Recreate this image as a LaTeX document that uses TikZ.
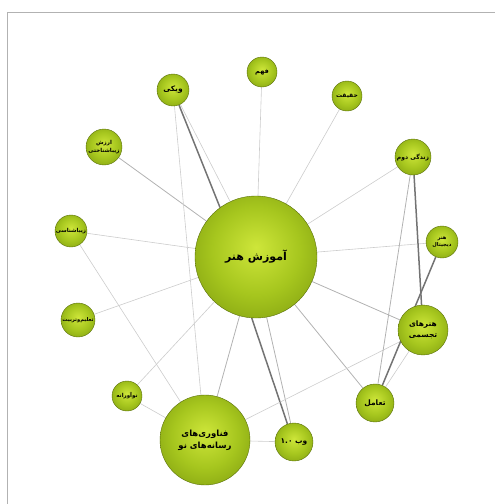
\documentclass[tikz,border=0pt]{standalone}
\usepackage{fontspec}
\newfontfamily\arabicfont[Script=Arabic]{DejaVu Sans}
\TeXXeTstate=1
\usetikzlibrary{backgrounds}
\newcommand{\faline}[1]{\beginR #1\endR}
\definecolor{ballrim}{RGB}{90,112,10}
\definecolor{ballA}{RGB}{206,230,58}
\definecolor{ballB}{RGB}{166,198,30}
\definecolor{ballC}{RGB}{124,154,14}
\definecolor{ballD}{RGB}{84,108,6}
\pgfdeclareradialshading{ballgreen}{\pgfpoint{0bp}{4bp}}{color(0bp)=(ballA); color(18bp)=(ballB); color(36bp)=(ballC); color(46bp)=(ballD); color(50bp)=(ballD)}
\tikzset{
  ball/.style={circle, inner sep=0pt, shading=ballgreen, draw=ballrim, line width=0.4pt, text=black, align=center, font=\arabicfont\bfseries},
  elight/.style={draw=gray!40, line width=0.6pt},
  emid/.style={draw=gray!60, line width=0.8pt},
  ethick/.style={draw=black!55, line width=1.5pt},
  frameline/.style={draw=gray!60, line width=0.8pt}
}
\begin{document}
\begin{tikzpicture}[x=1pt,y=-1pt]
\useasboundingbox (0,0) rectangle (495,504);
\coordinate (fbl) at (7,504);
\coordinate (ftl) at (7,12);
\coordinate (ftr) at (495,12);
\draw[frameline] (fbl) -- (ftl) -- (ftr);

\node[ball, minimum size=122pt, font=\arabicfont\bfseries\fontsize{11}{13}\selectfont] (hub) at (256,257) {\faline{آموزش هنر}};
\node[ball, minimum size=30pt, font=\arabicfont\bfseries\fontsize{6.5}{7}\selectfont] (fahm) at (262,72) {\faline{فهم}};
\node[ball, minimum size=32pt, font=\arabicfont\bfseries\fontsize{7.5}{8}\selectfont] (wiki) at (173,90) {\faline{ویکی}};
\node[ball, minimum size=30pt, font=\arabicfont\bfseries\fontsize{6}{6.5}\selectfont] (haq) at (347,96) {\faline{حقیقت}};
\node[ball, minimum size=36pt, font=\arabicfont\bfseries\fontsize{5.5}{7.5}\selectfont] (arzesh) at (104,147) {\faline{ارزش}\\\faline{زیباشناختی}};
\node[ball, minimum size=36pt, font=\arabicfont\bfseries\fontsize{6}{6.5}\selectfont] (zendegi) at (413,157) {\faline{زندگی دوم}};
\node[ball, minimum size=32pt, font=\arabicfont\bfseries\fontsize{5.5}{6}\selectfont] (ziba) at (71,231) {\faline{زیباشناسی}};
\node[ball, minimum size=32pt, font=\arabicfont\bfseries\fontsize{5.2}{7}\selectfont] (digital) at (442,242) {\faline{هنر}\\\faline{دیجیتال}};
\node[ball, minimum size=34pt, font=\arabicfont\bfseries\fontsize{5.2}{6}\selectfont] (talim) at (78,320) {\faline{تعلیم‌وتربیت}};
\node[ball, minimum size=50pt, font=\arabicfont\bfseries\fontsize{7.5}{10.5}\selectfont] (tajasomi) at (423,330) {\faline{هنرهای}\\\faline{تجسمی}};
\node[ball, minimum size=30pt, font=\arabicfont\bfseries\fontsize{5.5}{6}\selectfont] (noavar) at (127,396) {\faline{نوآورانه}};
\node[ball, minimum size=38pt, font=\arabicfont\bfseries\fontsize{7.5}{8}\selectfont] (taamol) at (375,403) {\faline{تعامل}};
\node[ball, minimum size=90pt, font=\arabicfont\bfseries\fontsize{8.5}{12}\selectfont] (fan) at (205,440) {\faline{فناوری‌های}\\\faline{رسانه‌های نو}};
\node[ball, minimum size=38pt, font=\arabicfont\bfseries\fontsize{7.5}{8}\selectfont] (web) at (294,442) {\faline{وب ۱.۰}};

\begin{scope}[on background layer]
\draw[elight] (hub) -- (fahm);
\draw[elight] (hub) -- (haq);
\draw[ethick] (wiki) -- (hub.126);
\draw[elight] (wiki) -- (hub.115);
\draw[emid] (hub) -- (arzesh);
\draw[elight] (hub) -- (ziba);
\draw[elight] (hub) -- (zendegi);
\draw[elight] (hub) -- (digital);
\draw[emid] (hub) -- (tajasomi);
\draw[elight] (hub) -- (talim);
\draw[elight] (hub) -- (noavar);
\draw[emid] (hub) -- (fan);
\draw[ethick] (hub.-94) -- (web.110);
\draw[emid] (hub.-80) -- (web.100);
\draw[emid] (hub) -- (taamol);
\draw[elight] (wiki) -- (fan);
\draw[elight] (ziba) -- (fan);
\draw[elight] (noavar) -- (fan);
\draw[elight] (fan) -- (web);
\draw[elight] (fan) -- (tajasomi);
\draw[emid] (zendegi) -- (taamol);
\draw[ethick] (zendegi) -- (tajasomi);
\draw[ethick] (digital) -- (taamol);
\draw[elight] (tajasomi) -- (taamol);
\end{scope}
\end{tikzpicture}
\end{document}
